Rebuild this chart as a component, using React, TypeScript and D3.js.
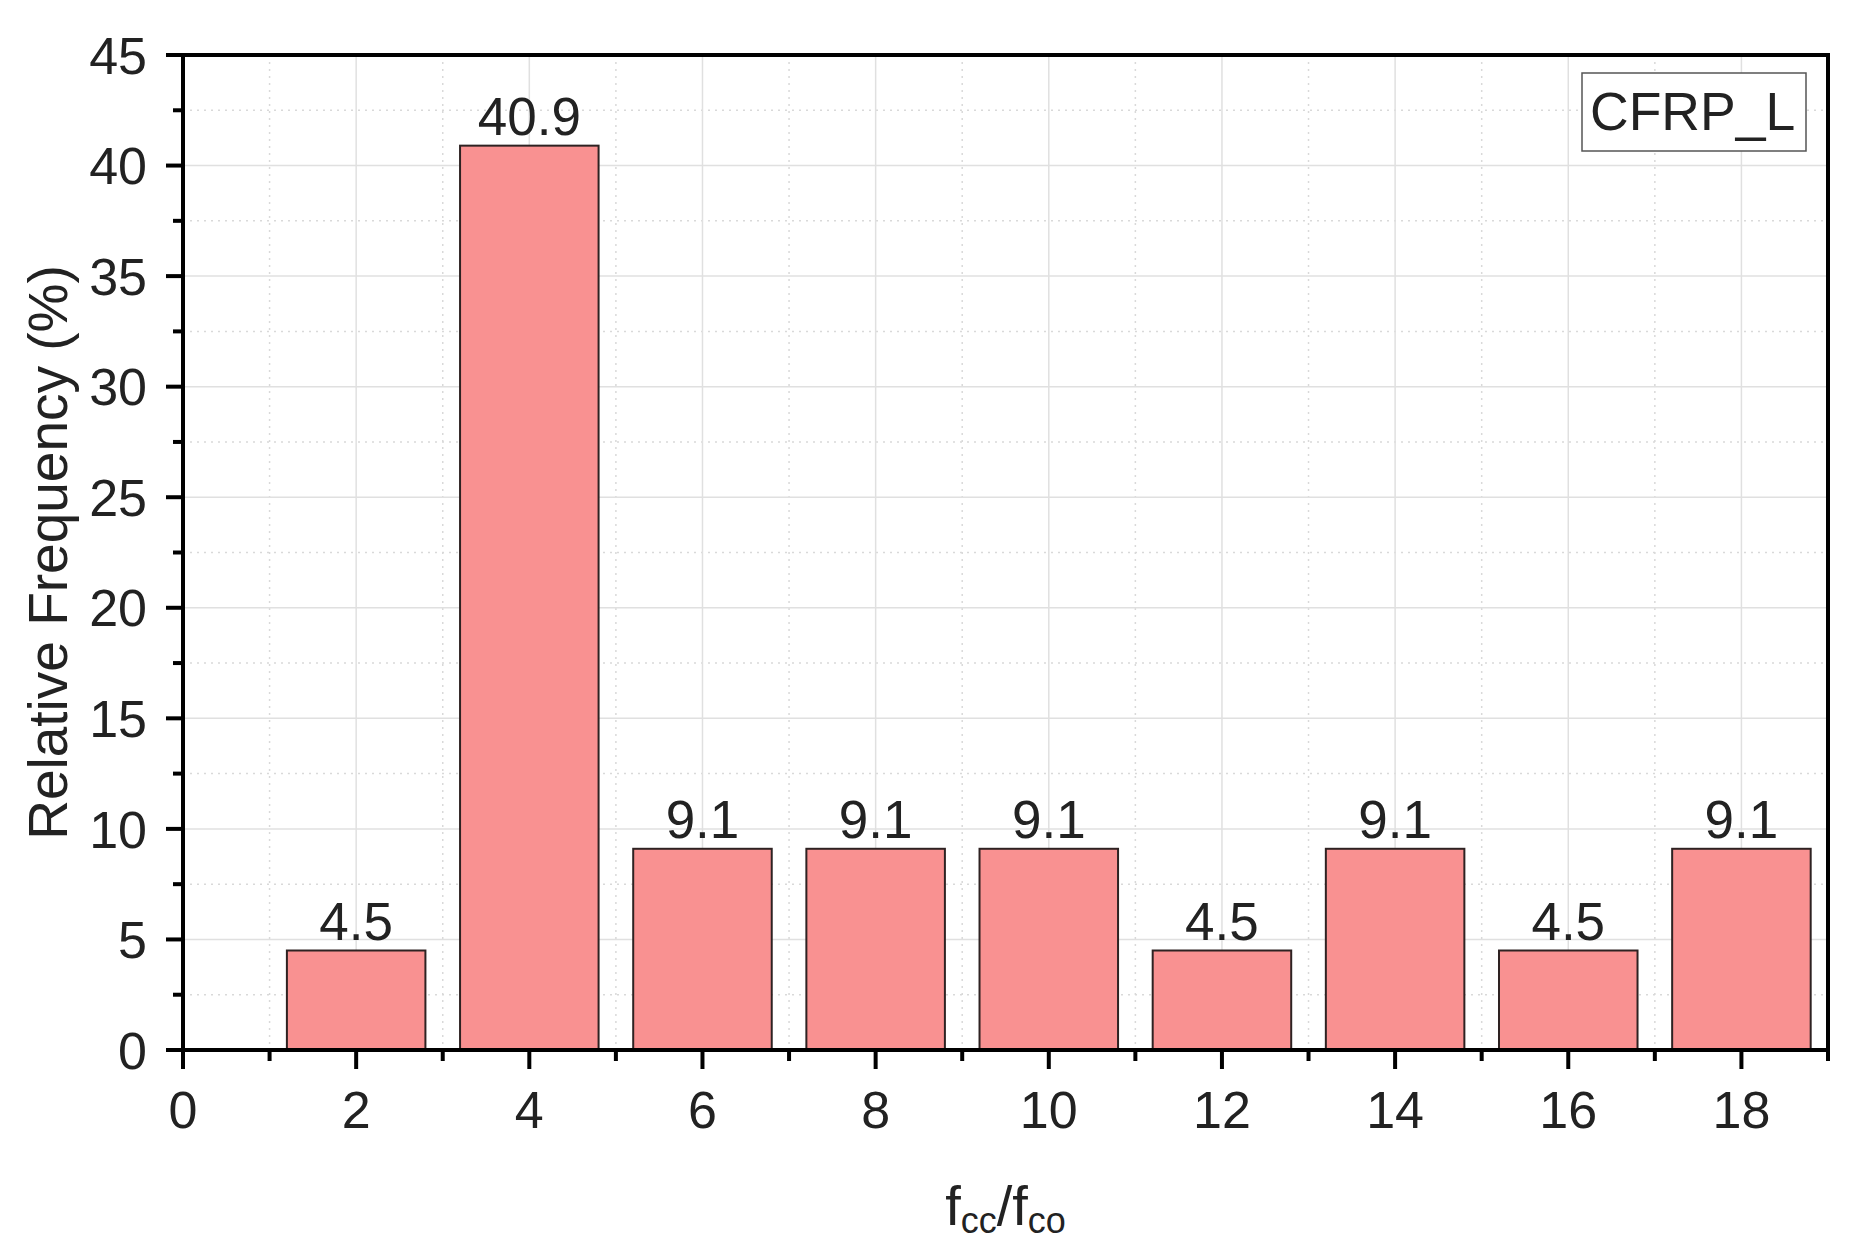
import React from "react";
import * as d3 from "d3";

const binCenters = [2, 4, 6, 8, 10, 12, 14, 16, 18];
const frequencies = [4.5, 40.9, 9.1, 9.1, 9.1, 4.5, 9.1, 4.5, 9.1];
const xMajorTicks = [0, 2, 4, 6, 8, 10, 12, 14, 16, 18];
const xMinorTicks = [1, 3, 5, 7, 9, 11, 13, 15, 17, 19];
const yMajorTicks = [0, 5, 10, 15, 20, 25, 30, 35, 40, 45];
const yMinorTicks = [2.5, 7.5, 12.5, 17.5, 22.5, 27.5, 32.5, 37.5, 42.5];
const legendLabel = "CFRP_L";

const W = 1851;
const H = 1255;
const M = { left: 183, right: 1828, top: 55, bottom: 1050 };
const FONT = "'Liberation Sans', Arial, Helvetica, sans-serif";
const TEXT = "#222";

export default function App() {
  const x = d3.scaleLinear().domain([0, 19]).range([M.left, M.right]);
  const y = d3.scaleLinear().domain([0, 45]).range([M.bottom, M.top]);
  const fmt = d3.format(".1f");
  const halfBar = 0.8;

  return (
    <div>
      <style>{`body{margin:0}`}</style>
      <svg width={W} height={H} viewBox={`0 0 ${W} ${H}`} style={{ display: "block", background: "#fff" }}>
        {/* minor grid */}
        {xMinorTicks.filter((t) => t < 19).map((t) => (
          <line key={"xmg" + t} x1={x(t)} x2={x(t)} y1={M.top} y2={M.bottom}
            stroke="#d9d9d9" strokeWidth={1.5} strokeDasharray="2,5" />
        ))}
        {yMinorTicks.map((t) => (
          <line key={"ymg" + t} x1={M.left} x2={M.right} y1={y(t)} y2={y(t)}
            stroke="#d9d9d9" strokeWidth={1.5} strokeDasharray="2,5" />
        ))}
        {/* major grid */}
        {xMajorTicks.filter((t) => t > 0).map((t) => (
          <line key={"xg" + t} x1={x(t)} x2={x(t)} y1={M.top} y2={M.bottom}
            stroke="#e0e0e0" strokeWidth={1.5} />
        ))}
        {yMajorTicks.filter((t) => t > 0 && t < 45).map((t) => (
          <line key={"yg" + t} x1={M.left} x2={M.right} y1={y(t)} y2={y(t)}
            stroke="#e0e0e0" strokeWidth={1.5} />
        ))}

        {/* bars */}
        {binCenters.map((c, i) => (
          <rect key={"bar" + c}
            x={x(c - halfBar)} y={y(frequencies[i])}
            width={x(c + halfBar) - x(c - halfBar)}
            height={y(0) - y(frequencies[i])}
            fill="#F99191" stroke="#2e2222" strokeWidth={2} />
        ))}

        {/* value labels */}
        {binCenters.map((c, i) => (
          <text key={"val" + c} x={x(c)} y={y(frequencies[i]) - 11}
            textAnchor="middle" fontFamily={FONT} fontSize={53} fill={TEXT}>
            {fmt(frequencies[i])}
          </text>
        ))}

        {/* frame */}
        <rect x={M.left} y={M.top} width={M.right - M.left} height={M.bottom - M.top}
          fill="none" stroke="#000" strokeWidth={4} />

        {/* y ticks */}
        {yMajorTicks.map((t) => (
          <line key={"yt" + t} x1={M.left - 17} x2={M.left} y1={y(t)} y2={y(t)} stroke="#000" strokeWidth={4} />
        ))}
        {yMinorTicks.map((t) => (
          <line key={"ymt" + t} x1={M.left - 10} x2={M.left} y1={y(t)} y2={y(t)} stroke="#000" strokeWidth={4} />
        ))}
        {yMajorTicks.map((t) => (
          <text key={"yl" + t} x={147} y={y(t)} dy="0.36em" textAnchor="end"
            fontFamily={FONT} fontSize={52} fill={TEXT}>{t}</text>
        ))}

        {/* x ticks */}
        {xMajorTicks.map((t) => (
          <line key={"xt" + t} x1={x(t)} x2={x(t)} y1={M.bottom} y2={M.bottom + 19} stroke="#000" strokeWidth={4} />
        ))}
        {xMinorTicks.map((t) => (
          <line key={"xmt" + t} x1={x(t)} x2={x(t)} y1={M.bottom} y2={M.bottom + 11} stroke="#000" strokeWidth={4} />
        ))}
        {xMajorTicks.map((t) => (
          <text key={"xl" + t} x={x(t)} y={1128} textAnchor="middle"
            fontFamily={FONT} fontSize={52} fill={TEXT}>{t}</text>
        ))}

        {/* axis titles */}
        <text transform={`translate(67,${(M.top + M.bottom) / 2}) rotate(-90)`} textAnchor="middle"
          fontFamily={FONT} fontSize={55} fill={TEXT}>Relative Frequency (%)</text>
        <text x={(M.left + M.right) / 2} y={1225} textAnchor="middle" fontFamily={FONT} fontSize={56} fill={TEXT}>
          f<tspan fontSize={36} dy={8}>cc</tspan><tspan dy={-8}>/f</tspan><tspan fontSize={36} dy={8}>co</tspan>
        </text>

        {/* legend */}
        <rect x={1582} y={73} width={224} height={78} fill="#fff" stroke="#555" strokeWidth={1.5} />
        <text x={1590} y={130} fontFamily={FONT} fontSize={53.5} fill={TEXT}>{legendLabel}</text>
      </svg>
    </div>
  );
}
